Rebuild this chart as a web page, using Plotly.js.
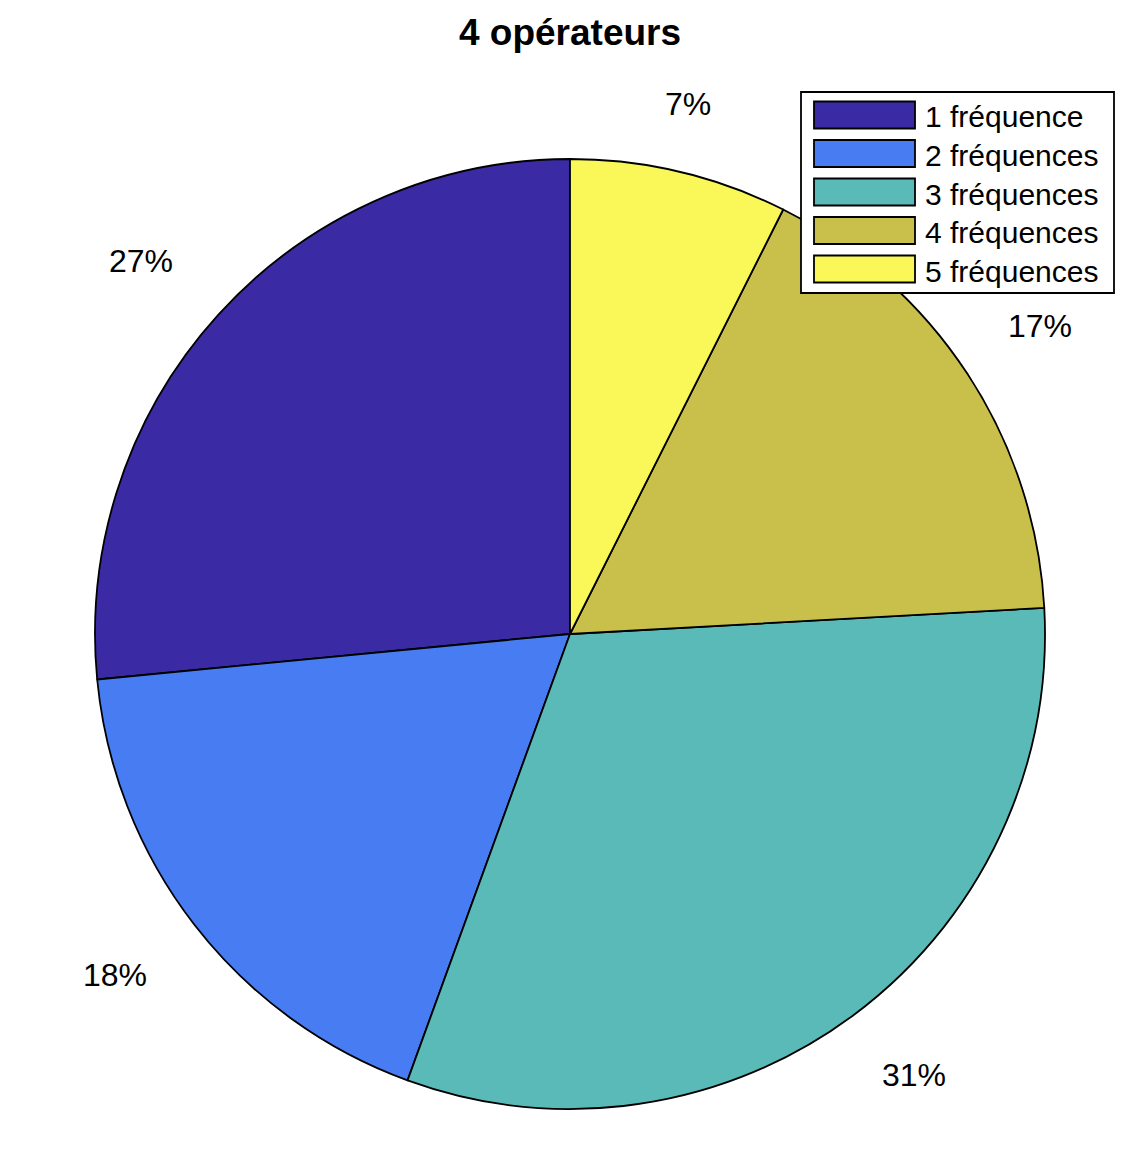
<!DOCTYPE html>
<html>
<head>
<meta charset="utf-8">
<script src="https://cdn.plot.ly/plotly-3.0.1.min.js"></script>
<style>html,body{margin:0;padding:0;background:#fff;}#chart{width:1140px;height:1152px;}</style>
</head>
<body>
<div id="chart"></div>
<script>
const categories = ["1 fréquence", "2 fréquences", "3 fréquences", "4 fréquences", "5 fréquences"];
const values = [26.5, 17.9, 31.4, 16.7, 7.4];
const colors = ["#3a2aa4", "#477cf2", "#59bab8", "#c9c04b", "#f9f858"];

const FONT = "Liberation Sans, Arial, Helvetica, sans-serif";
const W = 1140, H = 1152;
const M = {l: 95, r: 95, t: 159, b: 43};
const PW = W - M.l - M.r, PH = H - M.t - M.b;
const px2x = p => (p - M.l) / PW;
const py2y = p => (H - M.b - p) / PH;

const total = values.reduce((a, b) => a + b, 0);

// Plotly's counterclockwise direction ends the first slice at `rotation`;
// shift so the first slice starts at 12 o'clock like MATLAB's pie.
const rotation = -values[0] / total * 360;

const trace = {
  type: "pie",
  labels: categories,
  values: values,
  sort: false,
  direction: "counterclockwise",
  rotation: rotation,
  marker: {colors: colors, line: {color: "#000000", width: 1.8}},
  textinfo: "none",
  hoverinfo: "label+percent",
  showlegend: false,
  domain: {x: [0, 1], y: [0, 1]}
};

const shapes = [];
const annotations = [];

// Percentage labels outside the pie, MATLAB style: anchored at 1.1 R on each slice
// bisector, aligned away from the pie.
const LABEL_SIZE = 32;
const R = PW / 2;
let cum = 0;
values.forEach((v, i) => {
  const mid = 90 + (cum + v / 2) / total * 360;
  cum += v;
  const th = mid * Math.PI / 180;
  const c = Math.cos(th), s = Math.sin(th);
  const txt = Math.round(v / total * 100) + "%";
  let xa = "center", xs = 0;
  if (c > 0.3) { xa = "left"; xs = -1; }
  else if (c < -0.3) { xa = "right"; xs = -8; }
  annotations.push({
    xref: "paper", yref: "paper",
    x: 0.5 + 1.1 * R * c / PW,
    y: 0.5 + 1.1 * R * s / PH,
    xanchor: xa, yanchor: s >= 0 ? "bottom" : "top",
    xshift: xa === "center" ? -2 : xs, yshift: s >= 0 ? 2 : -1,
    showarrow: false, text: txt,
    font: {family: FONT, size: LABEL_SIZE, color: "#000000"}
  });
});

// MATLAB-style legend with wide swatches, built from the category list
const legL = 801, legR = 1114, legT = 92, legB = 293;
shapes.push({type: "rect", xref: "paper", yref: "paper",
  x0: px2x(legL), x1: px2x(legR), y0: py2y(legB), y1: py2y(legT),
  line: {color: "#000000", width: 1.8}, fillcolor: "#ffffff", layer: "above"});
categories.forEach((c, i) => {
  const cy = 115 + 38.5 * i;
  shapes.push({type: "rect", xref: "paper", yref: "paper",
    x0: px2x(814), x1: px2x(915), y0: py2y(cy + 13.5), y1: py2y(cy - 13.5),
    line: {color: "#000000", width: 1.8}, fillcolor: colors[i], layer: "above"});
  annotations.push({xref: "paper", yref: "paper", x: px2x(923), y: py2y(cy),
    xanchor: "left", yanchor: "middle", showarrow: false, text: c, yshift: -2,
    font: {family: FONT, size: 30, color: "#000000"}});
});

const layout = {
  width: W,
  height: H,
  margin: M,
  paper_bgcolor: "#ffffff",
  plot_bgcolor: "#ffffff",
  title: {
    text: "<b>4 opérateurs</b>",
    font: {family: FONT, size: 37, color: "#000000"},
    x: 0.5, xanchor: "center", xref: "paper",
    y: 1 - 32 / H, yanchor: "middle", yref: "container"
  },
  showlegend: false,
  shapes: shapes,
  annotations: annotations
};

Plotly.newPlot("chart", [trace], layout, {displayModeBar: false, staticPlot: true});
</script>
</body>
</html>
